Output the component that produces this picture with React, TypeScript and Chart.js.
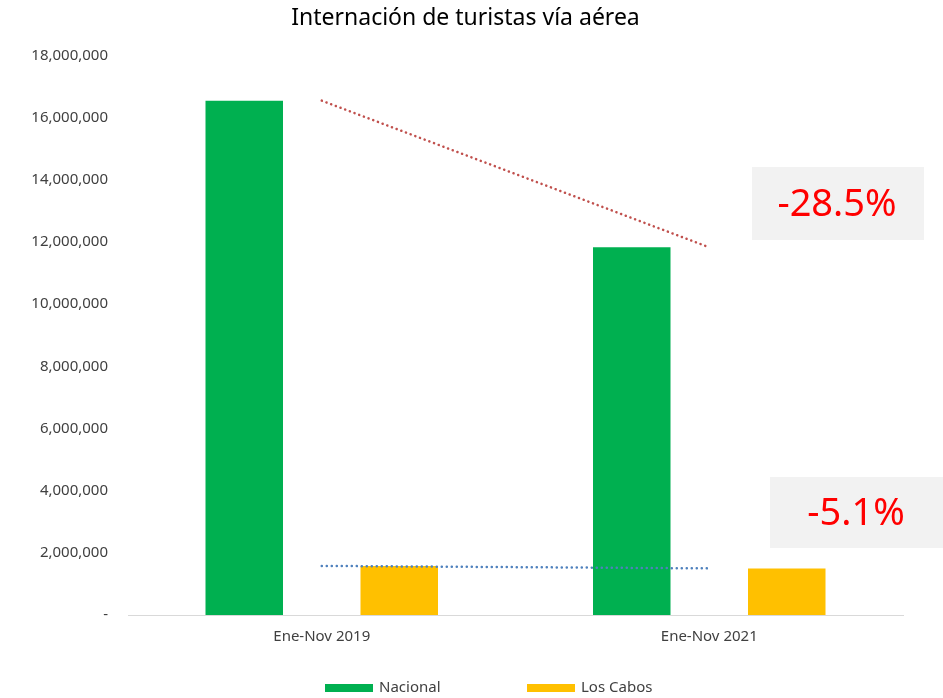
import React, { useEffect, useRef } from "react";
import { Chart, registerables } from "chart.js";

Chart.register(...registerables);

const categories = ["Ene-Nov 2019", "Ene-Nov 2021"];
const nacional = [16550000, 11830000];
const losCabos = [1580000, 1500000];
const seriesNames = ["Nacional", "Los Cabos"];
const changeLabels = ["-28.5%", "-5.1%"];
const yTicks = [0, 2000000, 4000000, 6000000, 8000000, 10000000, 12000000, 14000000, 16000000, 18000000];

const FONT = "'Noto Sans', 'Open Sans', sans-serif";

const overlayPlugin = {
  id: "overlay",
  afterDraw(chart: any) {
    const ctx = chart.ctx;
    ctx.save();
    const boxes = [
      { x: 752, y: 167, w: 172, h: 73, tx: 837, ty: 205, text: changeLabels[0] },
      { x: 770, y: 477, w: 173, h: 71, tx: 856, ty: 514, text: changeLabels[1] },
    ];
    for (const b of boxes) {
      ctx.fillStyle = "#F2F2F2";
      ctx.fillRect(b.x, b.y, b.w, b.h);
      ctx.fillStyle = "#FF0000";
      ctx.font = `38px ${FONT}`;
      ctx.textAlign = "center";
      ctx.textBaseline = "middle";
      ctx.fillText(b.text, b.tx, b.ty);
    }
    const items = [
      { x: 325, color: "#00B050", label: seriesNames[0] },
      { x: 527, color: "#FFC000", label: seriesNames[1] },
    ];
    for (const it of items) {
      ctx.fillStyle = it.color;
      ctx.fillRect(it.x, 684, 48, 8);
      ctx.fillStyle = "#404040";
      ctx.font = `15px ${FONT}`;
      ctx.textAlign = "left";
      ctx.textBaseline = "middle";
      ctx.fillText(it.label, it.x + 54, 688);
    }
    ctx.restore();
  },
};

export default function App() {
  const ref = useRef<HTMLCanvasElement>(null);
  useEffect(() => {
    document.body.style.margin = "0";
    const chart = new Chart(ref.current!, {
      type: "bar",
      data: {
        labels: categories,
        datasets: [
          {
            type: "line",
            label: "trend-nacional",
            data: nacional,
            borderColor: "#C0504D",
            borderWidth: 2.5,
            borderDash: [0.1, 4.9],
            borderCapStyle: "round",
            pointRadius: 0,
            fill: false,
            order: 0,
          } as any,
          {
            type: "line",
            label: "trend-loscabos",
            data: losCabos,
            borderColor: "#4F81BD",
            borderWidth: 2.5,
            borderDash: [0.1, 4.9],
            borderCapStyle: "round",
            pointRadius: 0,
            fill: false,
            order: 0,
          } as any,
          {
            label: seriesNames[0],
            data: nacional,
            backgroundColor: "#00B050",
            categoryPercentage: 0.8,
            barPercentage: 0.5,
            order: 1,
          },
          {
            label: seriesNames[1],
            data: losCabos,
            backgroundColor: "#FFC000",
            categoryPercentage: 0.8,
            barPercentage: 0.5,
            order: 1,
          },
        ],
      },
      options: {
        animation: false,
        responsive: false,
        layout: { padding: { left: 0, right: 12, top: 0, bottom: 0 } },
        plugins: {
          legend: { display: false },
          tooltip: { enabled: false },
          title: {
            display: true,
            text: "Internación de turistas vía aérea",
            color: "#000000",
            font: { family: FONT, size: 23, weight: "normal" },
            padding: { top: 5, bottom: 23 },
          },
        },
        scales: {
          x: {
            grid: { display: false, drawTicks: false },
            border: { display: true, color: "#D9D9D9", width: 1 },
            ticks: { color: "#404040", font: { family: FONT, size: 15 }, padding: 13 },
            afterFit: (s: any) => {
              s.height = 83;
            },
          },
          y: {
            min: 0,
            max: 18000000,
            grid: { display: false, drawTicks: false },
            border: { display: false },
            afterBuildTicks: (s: any) => {
              s.ticks = yTicks.map((v) => ({ value: v }));
            },
            ticks: {
              color: "#404040",
              font: { family: FONT, size: 15 },
              padding: 20,
              callback: (v: any) => (Number(v) === 0 ? "-" : Number(v).toLocaleString("en-US")),
            },
            afterFit: (s: any) => {
              s.width = 128;
            },
          },
          yRight: {
            position: "right",
            min: 0,
            max: 18000000,
            grid: { display: false, drawTicks: false },
            border: { display: false },
            ticks: { display: false },
            afterFit: (s: any) => {
              s.width = 28;
            },
          },
        },
      },
      plugins: [overlayPlugin],
    });
    return () => chart.destroy();
  }, []);
  return <canvas ref={ref} width={943} height={698} style={{ display: "block" }} />;
}
